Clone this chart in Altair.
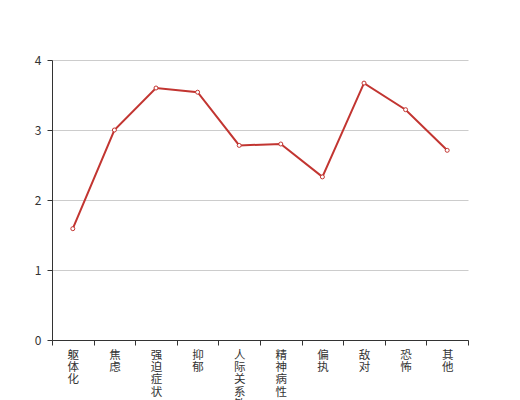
import altair as alt
import pandas as pd

categories = ["躯体化", "焦虑", "强迫症状", "抑郁", "人际关系敏感", "精神病性", "偏执", "敌对", "恐怖", "其他"]
values = [1.59, 3.0, 3.60, 3.54, 2.78, 2.80, 2.33, 3.67, 3.29, 2.71]

df = pd.DataFrame({"cat": categories, "val": values})

font = "Noto Sans CJK SC"

x = alt.X("cat:N", sort=categories, title=None,
          scale=alt.Scale(paddingInner=0, paddingOuter=0),
          axis=alt.Axis(labelAngle=0, labelExpr="split(datum.label, '')",
                        labelLineHeight=12.4, labelBaseline="top", labelAlign="center",
                        labelPadding=4, tickBand="extent", tickSize=5,
                        domainColor="#333", tickColor="#333", labelColor="#333",
                        labelFont=font, labelFontSize=11.5, grid=False))
y = alt.Y("val:Q", title=None,
          scale=alt.Scale(domain=[0, 4], nice=False),
          axis=alt.Axis(values=[0, 1, 2, 3, 4], tickSize=5, labelPadding=6,
                        domainColor="#333", tickColor="#333", labelColor="#333",
                        labelFont=font, labelFontSize=12, gridColor="#ccc",
                        grid=True))

base = alt.Chart(df).encode(x=x, y=y)
line = base.mark_line(color="#c23531", strokeWidth=2)
pts = base.mark_point(shape="circle", filled=True, fill="white", stroke="#c23531",
                      strokeWidth=1, size=16, opacity=1)

chart = (line + pts).properties(
    width=416, height=280,
    autosize=alt.AutoSizeParams(type="none"),
    padding={"left": 44, "top": 52, "right": 44, "bottom": 70},
).configure_view(stroke=None)

chart.save("out.html", embed_options={"renderer": "svg", "actions": False})
